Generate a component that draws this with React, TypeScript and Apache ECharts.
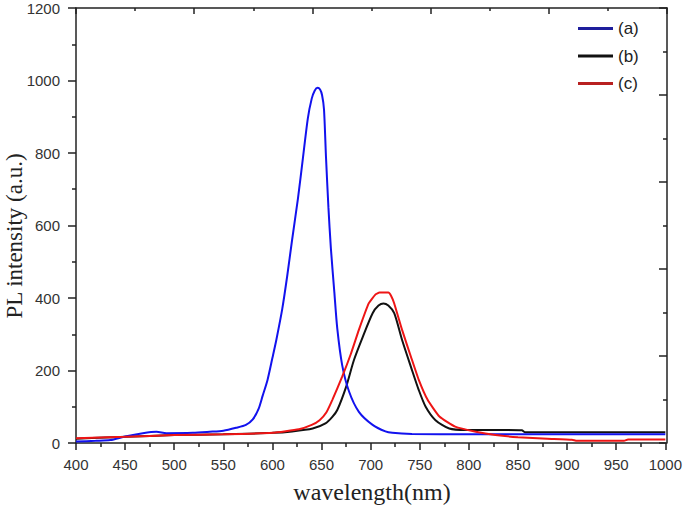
import React, { useEffect, useRef } from "react";
import * as echarts from "echarts";

const seriesNames = ["(a)", "(b)", "(c)"];
const lineColors = ["#1212ee", "#111111", "#ee1515"];
const legendColors = ["#1e1e9c", "#111111", "#b82020"];

const seriesA: [number, number][] = [
  [400, 4], [420, 6], [435, 8], [450, 18], [468, 27], [482, 31], [492, 27], [519, 28], [536, 31],
  [550, 34], [563, 42], [573, 50], [580, 65], [586, 95], [590, 130], [595, 174], [600, 235],
  [604, 285], [610, 370], [615, 460], [620, 560], [626, 675], [631, 785], [636, 895], [640, 950],
  [643, 972], [646, 980], [648.5, 975], [650.5, 960], [652.5, 920], [654.5, 790], [657, 650],
  [659.5, 537], [663, 417], [666, 316], [671, 215], [678, 142], [688, 86], [702, 50], [715, 32],
  [722, 28], [742, 25], [800, 24], [900, 24], [1000, 24],
];

const seriesB: [number, number][] = [
  [400, 12], [430, 15], [450, 17], [500, 22], [550, 24], [600, 28], [620, 32], [641, 40],
  [654, 54], [661, 72], [666, 91], [675, 155], [683, 229], [692, 293], [702, 358], [708, 379],
  [713, 385], [718, 379], [724, 358], [732, 284], [741, 210], [749, 146], [756, 100], [766, 63],
  [780, 40], [797, 36], [817, 36], [854, 35], [857, 30], [1000, 30],
];

const seriesC: [number, number][] = [
  [400, 13], [450, 17], [500, 22], [550, 24], [600, 28], [627, 38], [640, 50], [648, 63],
  [655, 85], [661, 119], [671, 183], [680, 247], [688, 312], [698, 385], [705, 410], [709, 415],
  [718, 415], [721, 405], [724, 385], [732, 312], [741, 238], [749, 174], [758, 119], [770, 73],
  [786, 45], [807, 31], [827, 22], [850, 16], [880, 12], [905, 9], [910, 6], [958, 6],
  [962, 10], [1000, 10],
];

const xTicks = { min: 400, max: 1000, interval: 50 };
const yTicks = { min: 0, max: 1200, interval: 200 };
// top frame axis: same span as the bottom axis (600 nm), ticks every 120 nm counted from 400
const topTicks = { min: 0, max: 600, interval: 120 };
const rightTicks = { min: 0, max: 1200, interval: 240 };
const xLabel = "wavelength(nm)";
const yLabel = "PL intensity (a.u.)";

export default function App() {
  const ref = useRef<HTMLDivElement>(null);
  useEffect(() => {
    if (!ref.current) return;
    const chart = echarts.init(ref.current, undefined, { renderer: "svg" });
    const axisLine = { show: true, onZero: false, lineStyle: { color: "#222", width: 1.5 } };
    const labelStyle = {
      fontFamily: "Arial, 'Liberation Sans'",
      fontSize: 15,
      color: "#333",
      formatter: (v: number) => String(v),
    };
    const datasets = [seriesA, seriesB, seriesC];
    const zOrder = [4, 3, 5];
    const gridRect = { left: 76, right: 18, top: 8, bottom: 63, containLabel: false };
    chart.setOption({
      animation: false,
      backgroundColor: "#ffffff",
      grid: [gridRect, { ...gridRect }],
      legend: {
        orient: "vertical",
        left: 578,
        top: 20,
        itemWidth: 35,
        itemHeight: 3,
        itemGap: 10.5,
        padding: 0,
        icon: "rect",
        textStyle: { fontFamily: "Arial, 'Liberation Sans'", fontSize: 17, color: "#222", lineHeight: 16 },
        data: seriesNames.map((n, i) => ({ name: n, itemStyle: { color: legendColors[i] } })),
      },
      xAxis: [
        {
          type: "value",
          gridIndex: 0,
          position: "bottom",
          min: xTicks.min,
          max: xTicks.max,
          interval: xTicks.interval,
          axisLine,
          axisTick: { show: true, inside: false, length: 7, lineStyle: { color: "#222", width: 1.5 } },
          minorTick: { show: true, splitNumber: 2, length: 4, lineStyle: { color: "#222", width: 1.5 } },
          axisLabel: { ...labelStyle, margin: 14 },
          splitLine: { show: false },
          minorSplitLine: { show: false },
        },
        {
          type: "value",
          gridIndex: 1,
          position: "top",
          min: topTicks.min,
          max: topTicks.max,
          interval: topTicks.interval,
          axisLine,
          axisTick: { show: true, inside: true, length: 6, lineStyle: { color: "#222", width: 1.5 } },
          minorTick: { show: true, splitNumber: 2, length: 3, lineStyle: { color: "#222", width: 1.5 } },
          axisLabel: { show: false },
          splitLine: { show: false },
        },
      ],
      yAxis: [
        {
          type: "value",
          gridIndex: 0,
          position: "left",
          min: yTicks.min,
          max: yTicks.max,
          interval: yTicks.interval,
          axisLine,
          axisTick: { show: true, inside: false, length: 8, lineStyle: { color: "#222", width: 1.5 } },
          minorTick: { show: true, splitNumber: 2, length: 4, lineStyle: { color: "#222", width: 1.5 } },
          axisLabel: { ...labelStyle, margin: 16 },
          splitLine: { show: false },
        },
        {
          type: "value",
          gridIndex: 1,
          position: "right",
          min: rightTicks.min,
          max: rightTicks.max,
          interval: rightTicks.interval,
          axisLine,
          axisTick: { show: true, inside: true, length: 8, lineStyle: { color: "#222", width: 1.5 } },
          minorTick: { show: true, splitNumber: 2, length: 4, lineStyle: { color: "#222", width: 1.5 } },
          axisLabel: { show: false },
          splitLine: { show: false },
        },
      ],
      series: [
        ...datasets.map((d, i) => ({
          name: seriesNames[i],
          type: "line",
          xAxisIndex: 0,
          yAxisIndex: 0,
          data: d,
          showSymbol: false,
          symbol: "none",
          smooth: i === 2 ? 0.15 : 0.25,
          lineStyle: { color: lineColors[i], width: 2 },
          itemStyle: { color: lineColors[i] },
          z: zOrder[i],
        })),
        {
          name: "frame",
          type: "line",
          xAxisIndex: 1,
          yAxisIndex: 1,
          data: [],
          silent: true,
          showSymbol: false,
        },
      ],
      graphic: [
        {
          type: "text",
          x: 14,
          y: 236,
          rotation: Math.PI / 2,
          style: {
            text: yLabel,
            fontFamily: "'Times New Roman', 'Liberation Serif', serif",
            fontSize: 23,
            fill: "#222",
            textAlign: "center",
            textVerticalAlign: "middle",
          },
        },
        {
          type: "text",
          x: 372,
          y: 492,
          style: {
            text: xLabel,
            fontFamily: "'Times New Roman', 'Liberation Serif', serif",
            fontSize: 24,
            fill: "#222",
            textAlign: "center",
            textVerticalAlign: "middle",
          },
        },
      ],
    });
    return () => chart.dispose();
  }, []);
  return <div ref={ref} style={{ width: 685, height: 506, position: "absolute", left: 0, top: 0 }} />;
}
